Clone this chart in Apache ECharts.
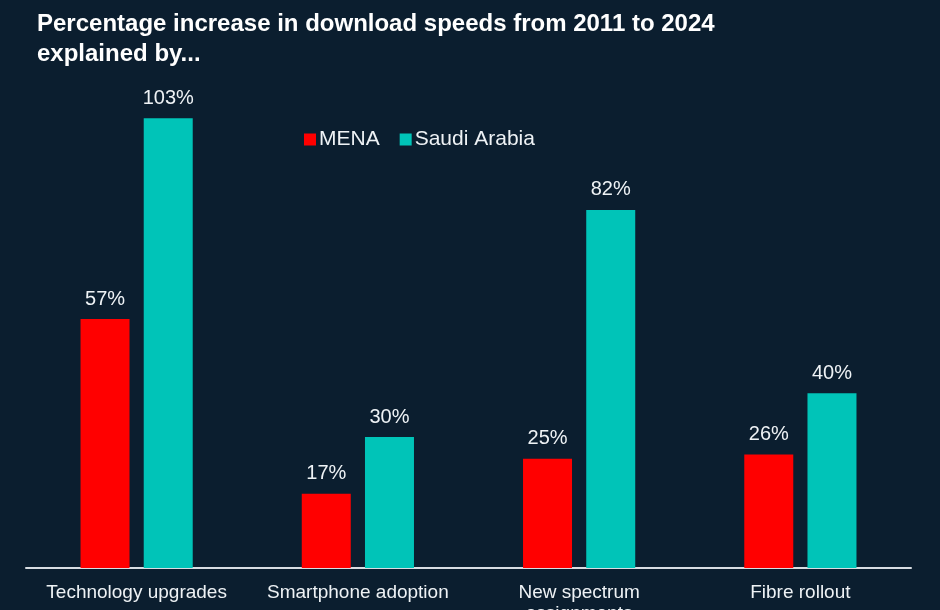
<!DOCTYPE html>
<html>
<head>
<meta charset="utf-8">
<script src="https://cdn.jsdelivr.net/npm/echarts@6/dist/echarts.min.js"></script>
<style>
  html, body { margin: 0; padding: 0; background: #0b1e2f; }
  #chart { width: 940px; height: 610px; }
</style>
</head>
<body>
<div id="chart"></div>
<script>
const categories = ['Technology upgrades', 'Smartphone adoption', 'New spectrum assignments', 'Fibre rollout'];
const menaValues = [57, 17, 25, 26];
const saudiValues = [103, 30, 82, 40];

const chart = echarts.init(document.getElementById('chart'));
const font = 'Liberation Sans, Arial, sans-serif';
const labelStyle = {
    show: true,
    position: 'top',
    distance: 10,
    color: '#eef2f5',
    fontSize: 20,
    fontFamily: font,
    formatter: '{c}%'
};
chart.setOption({
    backgroundColor: '#0b1e2f',
    animation: false,
    title: {
        text: 'Percentage increase in download speeds from 2011 to 2024\nexplained by...',
        left: 32,
        top: 4,
        textStyle: {
            color: '#ffffff',
            fontSize: 24,
            fontWeight: 'bold',
            lineHeight: 30,
            fontFamily: font
        }
    },
    legend: {
        left: 299,
        top: 124,
        itemWidth: 12,
        itemHeight: 12,
        itemGap: 20,
        icon: 'rect',
        textStyle: { color: '#eef2f5', fontSize: 21, fontFamily: font, padding: [0, 0, 0, -2] },
        data: ['MENA', 'Saudi Arabia']
    },
    grid: { left: 26, right: 29, top: 44, bottom: 42, outerBoundsMode: 'none' },
    xAxis: {
        type: 'category',
        data: categories,
        axisLine: { lineStyle: { color: '#d8dde2', width: 2 } },
        axisTick: { show: false },
        axisLabel: {
            color: '#eef2f5',
            fontSize: 19,
            margin: 14,
            interval: 0,
            lineHeight: 21,
            fontFamily: font,
            formatter: v => v === 'New spectrum assignments' ? 'New spectrum\nassignments' : v
        }
    },
    yAxis: {
        type: 'value',
        min: 0,
        max: 120,
        show: false,
        splitLine: { show: false }
    },
    series: [
        {
            name: 'MENA',
            type: 'bar',
            data: menaValues,
            barWidth: 49,
            barGap: '29%',
            itemStyle: { color: '#ff0000' },
            label: labelStyle
        },
        {
            name: 'Saudi Arabia',
            type: 'bar',
            data: saudiValues,
            barWidth: 49,
            itemStyle: { color: '#00c4b8' },
            label: labelStyle
        }
    ]
});
</script>
</body>
</html>
